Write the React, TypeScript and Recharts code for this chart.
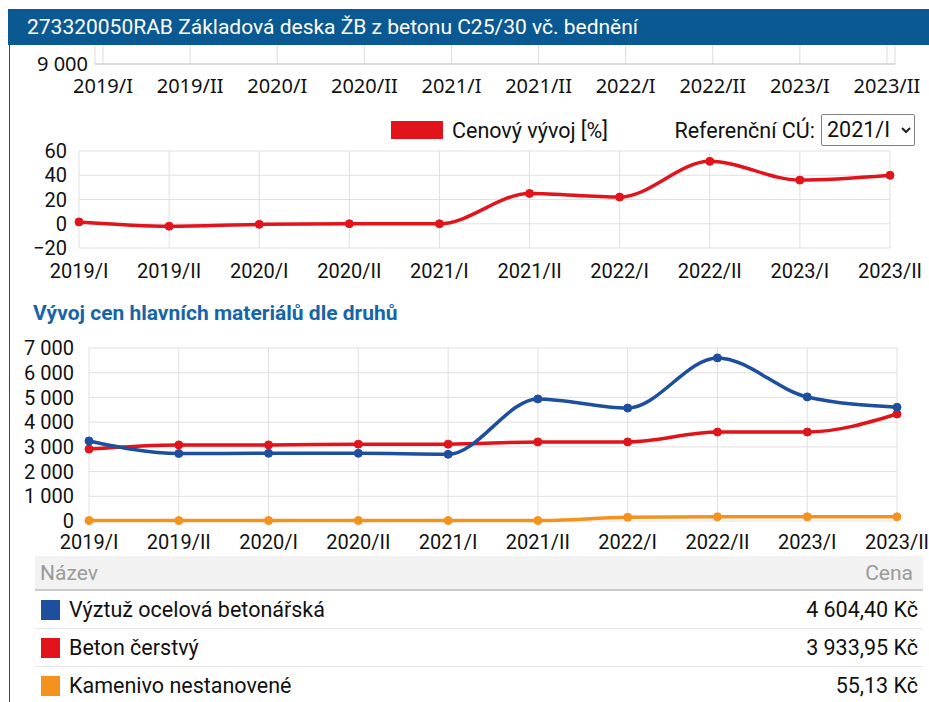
import React from 'react';
import { LineChart, Line, XAxis, YAxis, CartesianGrid, Legend } from 'recharts';

const periods = ['2019/I', '2019/II', '2020/I', '2020/II', '2021/I', '2021/II', '2022/I', '2022/II', '2023/I', '2023/II'];

// cenový vývoj v % vůči referenčnímu období 2021/I
const priceIndex = [1.5, -2, -0.5, 0, 0, 25, 22, 51.5, 36, 40];

// ceny hlavních materiálů (Kč)
const rebar = [3240, 2730, 2740, 2740, 2700, 4940, 4570, 6600, 5020, 4604];
const concrete = [2910, 3080, 3080, 3110, 3110, 3200, 3200, 3600, 3600, 4330];
const aggregate = [20, 20, 20, 20, 20, 20, 150, 170, 170, 170];

const indexTicks = [-20, 0, 20, 40, 60];
const priceTicks = [0, 1000, 2000, 3000, 4000, 5000, 6000, 7000];
const topTicks = [9000];

const materialNames = ['Výztuž ocelová betonářská', 'Beton čerstvý', 'Kamenivo nestanovené'];
const materialPrices = ['4 604,40 Kč', '3 933,95 Kč', '55,13 Kč'];

const BLUE = '#1d4f9e';
const RED = '#e2131b';
const ORANGE = '#f5921e';
const materialColors = [BLUE, RED, ORANGE];

const indexData = periods.map((p, i) => ({ period: p, index: priceIndex[i] }));
const materialData = periods.map((p, i) => ({
  period: p,
  rebar: rebar[i],
  concrete: concrete[i],
  aggregate: aggregate[i],
}));

const fmtThousands = (n: number) => String(n).replace(/\B(?=(\d{3})+(?!\d))/g, ' ');
const fmtSigned = (n: number) => (n < 0 ? '\u2212' + Math.abs(n) : String(n));

const FONT = 'Roboto, "Noto Sans", sans-serif';
const tickStyle = { fill: '#111', fontSize: 20, fontFamily: FONT };
const topTickStyle = { fill: '#111', fontSize: 20, fontFamily: '"Noto Sans", sans-serif' };

function IndexLegend() {
  return (
    <div style={{ position: 'relative', width: 929, height: 45, fontFamily: FONT, fontSize: 21.5, color: '#111' }}>
      <div style={{ position: 'absolute', left: 391, top: 16, width: 52, height: 18, background: RED }} />
      <div style={{ position: 'absolute', left: 452, top: 13, lineHeight: '26px', whiteSpace: 'nowrap' }}>
        Cenový vývoj [%]
      </div>
      <div style={{ position: 'absolute', right: 114, top: 13, lineHeight: '26px', whiteSpace: 'nowrap' }}>
        Referenční CÚ:
      </div>
      <div
        style={{
          position: 'absolute',
          left: 821,
          top: 9,
          width: 94,
          height: 32,
          border: '1.5px solid #808080',
          borderRadius: 2,
          boxSizing: 'border-box',
          background: '#fff',
        }}
      >
        <span style={{ position: 'absolute', left: 5, top: 2, lineHeight: '26px' }}>2021/I</span>
        <svg style={{ position: 'absolute', left: 78, top: 11 }} width={12} height={8}>
          <polyline points="2,2 6,6 10,2" fill="none" stroke="#222" strokeWidth={2} />
        </svg>
      </div>
    </div>
  );
}

export default function App() {
  return (
    <div
      style={{
        position: 'absolute',
        left: 0,
        top: 0,
        width: 929,
        height: 702,
        background: '#fff',
        overflow: 'hidden',
        fontFamily: FONT,
      }}
    >
      {/* left frame */}
      <div style={{ position: 'absolute', left: 9, top: 45, width: 1, height: 657, background: '#444' }} />

      {/* upper chart, mostly hidden under the header */}
      <div style={{ position: 'absolute', left: 0, top: 0 }}>
        <LineChart width={929} height={104} data={indexData} margin={{ top: 20, right: 34, bottom: 0, left: 0 }}>
          <CartesianGrid stroke="#dcdcdc" />
          <XAxis
            dataKey="period"
            padding={{ left: 8, right: 8 }}
            axisLine={{ stroke: '#c8c8c8' }}
            tickLine={false}
            tickMargin={9}
            height={40}
            interval={0}
            tick={topTickStyle}
          />
          <YAxis
            type="number"
            width={95}
            domain={[9000, 10000]}
            allowDataOverflow
            ticks={topTicks}
            interval={0}
            axisLine={false}
            tickLine={false}
            tickMargin={1}
            tickFormatter={fmtThousands}
            tick={topTickStyle}
          />
        </LineChart>
      </div>

      {/* header */}
      <div
        style={{
          position: 'absolute',
          left: 8,
          top: 9,
          width: 921,
          height: 36,
          background: '#0b5992',
          color: '#fff',
          fontSize: 21,
          lineHeight: '36px',
          paddingLeft: 19,
          boxSizing: 'border-box',
          zIndex: 2,
          whiteSpace: 'nowrap',
        }}
      >
        273320050RAB Základová deska ŽB z betonu C25/30 vč. bednění
      </div>

      {/* cenový vývoj */}
      <div style={{ position: 'absolute', left: 0, top: 105 }}>
        <LineChart width={929} height={181} data={indexData} margin={{ top: 46, right: 39, bottom: 0, left: 0 }}>
          <CartesianGrid stroke="#e0e0e0" />
          <Legend
            verticalAlign="middle"
            align="center"
            layout="horizontal"
            wrapperStyle={{ top: 0, left: 0, width: 929, height: 45 }}
            content={() => <IndexLegend />}
          />
          <XAxis
            dataKey="period"
            axisLine={false}
            tickLine={false}
            tickMargin={10}
            height={38}
            interval={0}
            tick={tickStyle}
          />
          <YAxis
            width={79}
            domain={[-20, 60]}
            ticks={indexTicks}
            interval={0}
            axisLine={false}
            tickLine={false}
            tickMargin={6}
            tickFormatter={fmtSigned}
            tick={tickStyle}
          />
          <Line
            type="monotone"
            dataKey="index"
            name="Cenový vývoj [%]"
            stroke={RED}
            strokeWidth={3.5}
            dot={{ r: 4, fill: RED, stroke: RED, strokeWidth: 1 }}
            isAnimationActive={false}
          />
        </LineChart>
      </div>

      {/* nadpis */}
      <div
        style={{
          position: 'absolute',
          left: 33,
          top: 300,
          fontSize: 21,
          lineHeight: '26px',
          fontWeight: 700,
          color: '#1765a9',
          whiteSpace: 'nowrap',
        }}
      >
        Vývoj cen hlavních materiálů dle druhů
      </div>

      {/* materiály */}
      <div style={{ position: 'absolute', left: 0, top: 336 }}>
        <LineChart width={929} height={219} data={materialData} margin={{ top: 12, right: 32, bottom: 0, left: 0 }}>
          <CartesianGrid stroke="#e0e0e0" />
          <XAxis
            dataKey="period"
            axisLine={false}
            tickLine={false}
            tickMargin={8}
            height={34}
            interval={0}
            tick={tickStyle}
          />
          <YAxis
            width={89}
            domain={[0, 7000]}
            ticks={priceTicks}
            interval={0}
            axisLine={false}
            tickLine={false}
            tickMargin={9}
            tickFormatter={fmtThousands}
            tick={tickStyle}
          />
          <Line
            type="monotone"
            dataKey="aggregate"
            name={materialNames[2]}
            stroke={ORANGE}
            strokeWidth={3.5}
            dot={{ r: 4, fill: ORANGE, stroke: ORANGE, strokeWidth: 1 }}
            isAnimationActive={false}
          />
          <Line
            type="monotone"
            dataKey="concrete"
            name={materialNames[1]}
            stroke={RED}
            strokeWidth={3.5}
            dot={{ r: 4, fill: RED, stroke: RED, strokeWidth: 1 }}
            isAnimationActive={false}
          />
          <Line
            type="monotone"
            dataKey="rebar"
            name={materialNames[0]}
            stroke={BLUE}
            strokeWidth={3.5}
            dot={{ r: 4, fill: BLUE, stroke: BLUE, strokeWidth: 1 }}
            isAnimationActive={false}
          />
        </LineChart>
      </div>

      {/* tabulka */}
      <div style={{ position: 'absolute', left: 35, top: 556, width: 888, fontSize: 21.5, color: '#111' }}>
        <div
          style={{
            height: 33,
            background: '#f2f2f2',
            borderBottom: '2px solid #c9c9c9',
            display: 'flex',
            alignItems: 'center',
            justifyContent: 'space-between',
            color: '#9a9a9a',
            fontSize: 21,
            padding: '0 10px 0 5px',
          }}
        >
          <span>Název</span>
          <span>Cena</span>
        </div>
        {materialNames.map((name, i) => (
          <div
            key={name}
            style={{
              height: 37,
              display: 'flex',
              alignItems: 'center',
              borderBottom: i < materialNames.length - 1 ? '1px solid #e6e6e6' : 'none',
              paddingRight: 5,
              whiteSpace: 'nowrap',
            }}
          >
            <div style={{ width: 19, height: 20, background: materialColors[i], marginLeft: 6, marginRight: 9 }} />
            <span style={{ flex: 1 }}>{name}</span>
            <span>{materialPrices[i]}</span>
          </div>
        ))}
      </div>
    </div>
  );
}
